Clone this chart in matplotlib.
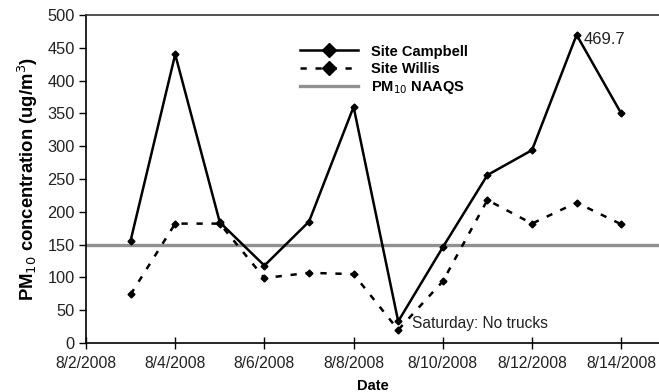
import matplotlib
matplotlib.use("Agg")
import matplotlib.pyplot as plt
import matplotlib.dates as mdates
import numpy as np
import datetime as dt

plt.rcParams['font.family'] = ['Liberation Sans', 'DejaVu Sans']

dates = [dt.datetime(2008, 8, d) for d in range(3, 15)]
campbell = [156, 440, 184, 118, 185, 360, 33, 146, 256, 294, 469.7, 350]
willis = [74, 182, 182, 99, 107, 105, 20, 94, 218, 182, 214, 181]
naaqs = 150
tick_dates = [dt.datetime(2008, 8, d) for d in range(2, 15, 2)]
tick_labels = ["8/2/2008", "8/4/2008", "8/6/2008", "8/8/2008", "8/10/2008", "8/12/2008", "8/14/2008"]

fig = plt.figure(figsize=(6.59, 3.92), dpi=100)
ax = fig.add_axes([86/659, 1 - 343/392, 1 - 86/659, (343 - 15)/392])

x0 = mdates.date2num(dt.datetime(2008, 8, 2))
px_per_day = 44.6
xmax = x0 + (659 - 86) / px_per_day
ax.set_xlim(x0, xmax)
ax.set_ylim(0, 500)

ax.axhline(naaqs, color='#909090', lw=2.4, label='PM$_{10}$ NAAQS', zorder=1)
ax.plot(dates, campbell, color='black', lw=1.8, marker='D', ms=3.5, label='Site Campbell', zorder=3)
ax.plot(dates, willis, color='black', lw=1.8, ls=(0, (2.5, 3.5)), marker='D', ms=3.5, label='Site Willis', zorder=2)

ax.set_xticks([mdates.date2num(d) for d in tick_dates])
ax.set_xticklabels(tick_labels, fontsize=11.3, color='#222222')
ax.set_yticks(range(0, 501, 50))
ax.tick_params(axis='y', labelsize=11.8, labelcolor='#222222', direction='out', length=5, width=1, pad=3)
ax.tick_params(axis='x', direction='inout', length=8, width=1, pad=5)

for s in ['right']:
    ax.spines[s].set_visible(False)
for s in ['left', 'bottom', 'top']:
    ax.spines[s].set_linewidth(1.2)
ax.spines['top'].set_color('#333333')

ax.set_ylabel('PM$_{10}$ concentration (ug/m$^3$)', fontsize=13.3, fontweight='bold', labelpad=5)
ax.set_xlabel('Date', fontsize=10.5, fontweight='bold', labelpad=6)

ax.annotate('469.7', xy=(mdates.date2num(dates[10]), 469.7), xytext=(5, -3),
            textcoords='offset points', fontsize=12, color='#222222', va='center', ha='left')
ax.annotate('Saturday: No trucks', xy=(mdates.date2num(dates[6]), 30), xytext=(10, 0),
            textcoords='offset points', fontsize=11.2, color='#222222', va='center', ha='left')

h, l = ax.get_legend_handles_labels()
order = [1, 2, 0]
leg = ax.legend([h[i] for i in order], [l[i] for i in order], loc='upper left',
                bbox_to_anchor=(0.35, 0.95), frameon=False, prop={'weight': 'bold', 'size': 10.5},
                handlelength=4.0, labelspacing=0.22, markerscale=2, handletextpad=0.9)

fig.savefig('out.png', dpi=100)
